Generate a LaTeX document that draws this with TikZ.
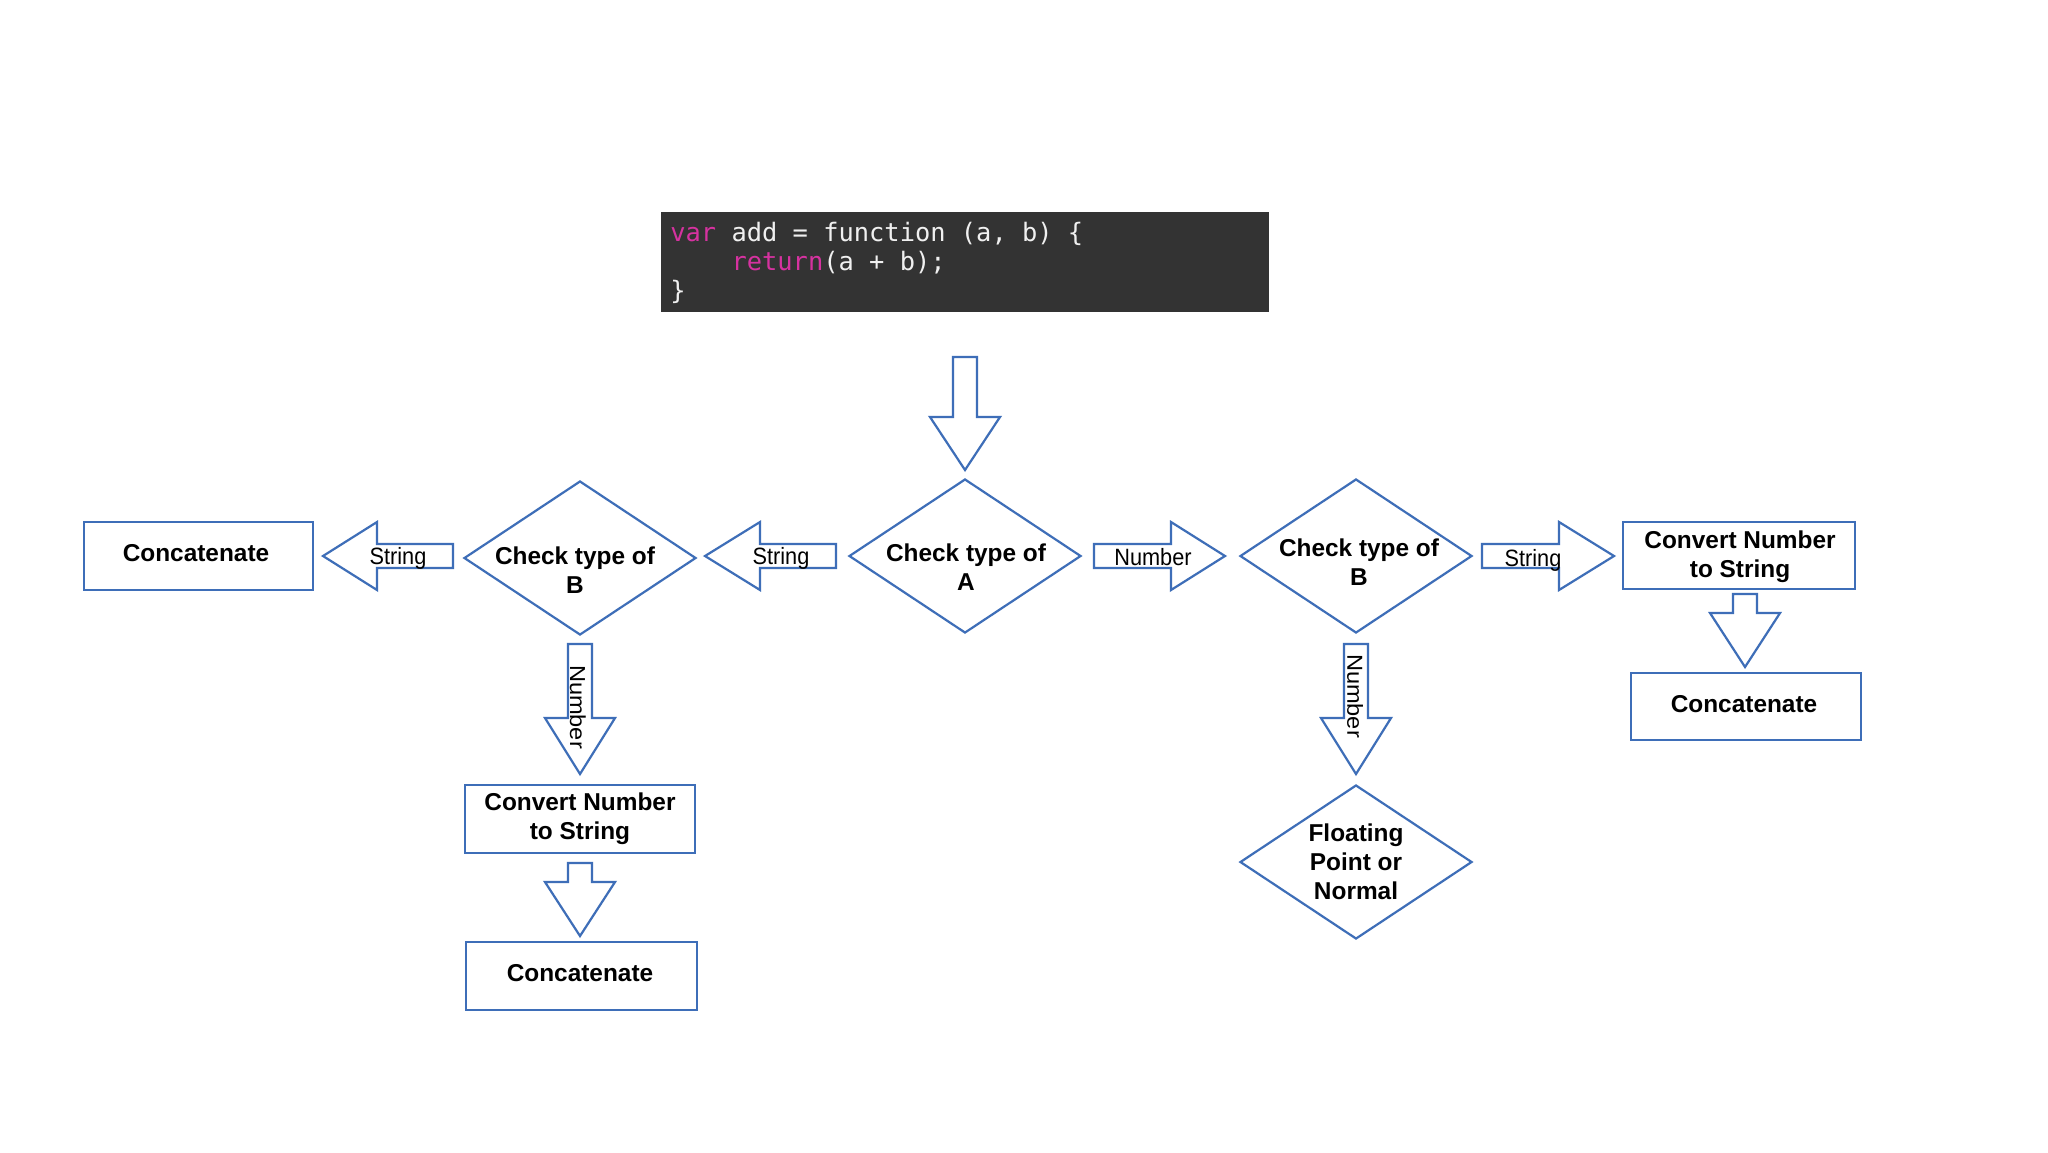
\documentclass[tikz,border=0pt]{standalone}
\usepackage{fontspec}
\setmainfont{Liberation Sans}
\newfontfamily\codefont{DejaVu Sans Mono}
\usetikzlibrary{shapes.geometric}
\definecolor{flowblue}{RGB}{62,110,184}
\definecolor{codebg}{RGB}{51,51,51}
\definecolor{kwpink}{RGB}{214,50,160}
\definecolor{codefg}{RGB}{240,240,240}
\newcommand{\blockH}[4]{% tail, headbase, tip, cy
  \draw[blockarrow] (#1,#4-12) -- (#2,#4-12) -- (#2,#4-34) -- (#3,#4) -- (#2,#4+34) -- (#2,#4+12) -- (#1,#4+12) -- cycle;}
\newcommand{\blockV}[4]{% cx, top, headstart, tip
  \draw[blockarrow] (#1-12,#2) -- (#1+12,#2) -- (#1+12,#3) -- (#1+35,#3) -- (#1,#4) -- (#1-35,#3) -- (#1-12,#3) -- cycle;}
\begin{document}
\begin{tikzpicture}[x=0.5pt,y=-0.5pt,
  blockarrow/.style={draw=flowblue,line width=1.1pt,fill=white,line join=miter},
  procbox/.style={draw=flowblue,line width=1.1pt,rectangle,inner sep=0pt},
  decbox/.style={draw=flowblue,line width=1.1pt,diamond,inner sep=0pt,minimum width=116pt,minimum height=77pt},
  boldtext/.style={font=\fontsize{12.2}{14.4}\selectfont\bfseries,align=center,inner sep=0pt},
  arrowtext/.style={font=\fontsize{11.8}{13}\selectfont,inner sep=0pt,xscale=0.92},
  codeline/.style={font=\fontsize{12.7}{15}\selectfont\codefont,text=codefg,anchor=base west,inner sep=0pt}]
\useasboundingbox[fill=white] (0,0) rectangle (2048,1152);

% code box
\node[fill=codebg,minimum width=304pt,minimum height=50pt,inner sep=0pt] (code) at (965,262) {};
\node[codeline] (c1) at (670,241) {\textcolor{kwpink}{var} add = function (a, b) \{};
\node[codeline] (c2) at (670,270) {\phantom{var }\textcolor{kwpink}{return}(a + b);};
\node[codeline] (c3) at (670,299) {\}};

% decisions
\node[decbox] (dA) at (965,556) {};
\node[decbox] (dBL) at (580,558) {};
\node[decbox] (dBR) at (1356,556) {};
\node[decbox] (dF) at (1356,862) {};
\node[boldtext] (tA) at (966,567) {Check type of\\A};
\node[boldtext] (tBL) at (575,570) {Check type of\\B};
\node[boldtext] (tBR) at (1359,562) {Check type of\\B};
\node[boldtext] (tF) at (1356,862) {Floating\\Point or\\Normal};

% process boxes
\node[procbox,minimum width=114.5pt,minimum height=34pt] (cL) at (198.5,556) {};
\node[boldtext] at (196,553) {Concatenate};
\node[procbox,minimum width=116pt,minimum height=33.5pt] (cvR) at (1739,555.5) {};
\node[boldtext] at (1740,557) {Convert Number\\to String};
\node[procbox,minimum width=115pt,minimum height=33.5pt] (ccR) at (1746,706.5) {};
\node[boldtext] at (1744,704) {Concatenate};
\node[procbox,minimum width=115pt,minimum height=34pt] (cvB) at (580,819) {};
\node[boldtext] at (580,819) {Convert Number\\to String};
\node[procbox,minimum width=115.5pt,minimum height=34pt] (ccB) at (581.5,976) {};
\node[boldtext] at (580,973) {Concatenate};

% block arrows
\blockV{965}{357}{417}{470}
\blockH{836}{760}{705}{556}
\blockH{453}{377}{323}{556}
\blockH{1094}{1171}{1225}{556}
\blockH{1482}{1559}{1614}{556}
\blockV{580}{644}{718}{774}
\blockV{1356}{644}{718}{774}
\blockV{580}{863}{882}{936}
\blockV{1745}{594}{613}{667}

% arrow labels
\node[arrowtext] (l1) at (781,558) {String};
\node[arrowtext] (l2) at (398,558) {String};
\node[arrowtext] (l3) at (1153,557) {Number};
\node[arrowtext] (l4) at (1533,560) {String};
\node[arrowtext,rotate=-90] (l5) at (578,707) {Number};
\node[arrowtext,rotate=-90] (l6) at (1355,696) {Number};
\end{tikzpicture}
\end{document}
